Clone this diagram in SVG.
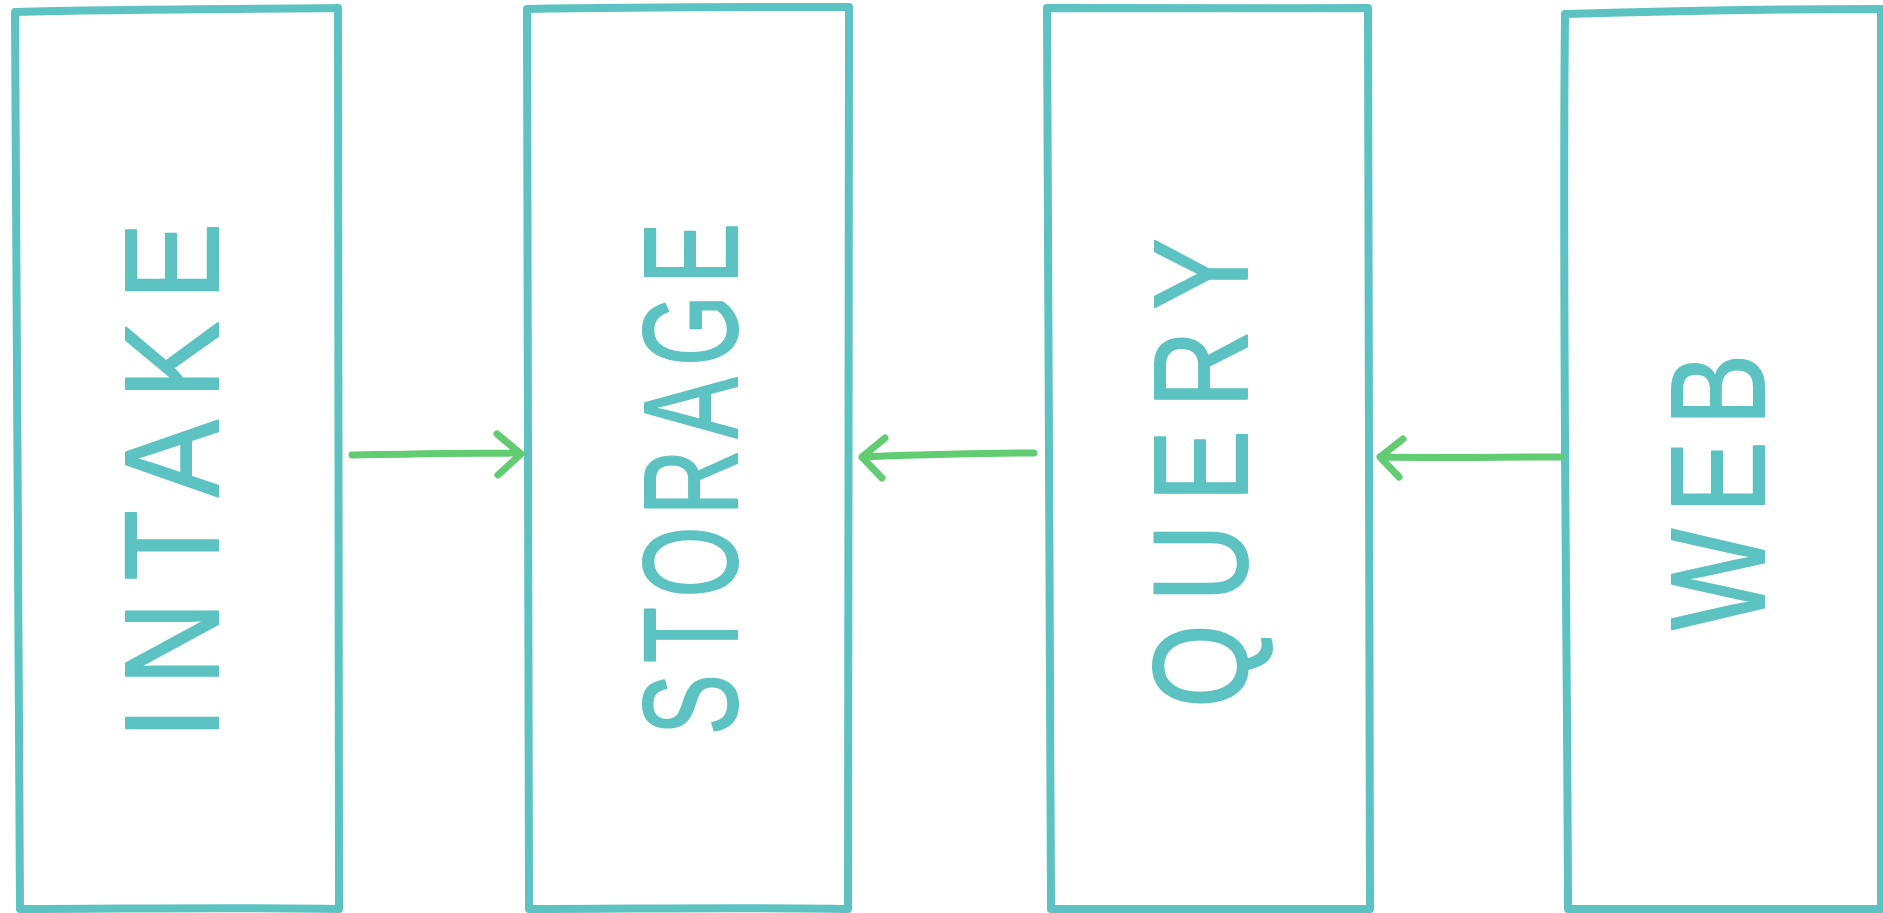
<svg xmlns="http://www.w3.org/2000/svg" width="1883" height="913" viewBox="0 0 1883 913">
<style>
.box{fill:none;stroke:#5cc2c2;stroke-width:8;stroke-linejoin:round;stroke-linecap:round}
.lbl{font-family:"Liberation Sans",Arial,sans-serif;font-size:134px;fill:#5cc2c2;stroke:#5cc2c2;stroke-width:2;stroke-linejoin:round;text-anchor:middle}
.arr{fill:none;stroke:#62cc72;stroke-width:7;stroke-linecap:round;stroke-linejoin:round}
</style>
<rect width="1883" height="913" fill="#ffffff"/>
<g id="intake">
<path class="box" d="M15,12 C120,9 240,9 338,8 C336,300 341,600 339,909 C230,907 120,909 20,909 C18,600 14,300 15,12 Z"/>
<text class="lbl" transform="translate(218,481) rotate(-90) scale(0.86,1)" textLength="600" lengthAdjust="spacing">INTAKE</text>
</g>
<g id="storage">
<path class="box" d="M527,9 C640,7 750,7 849,7 C846,300 850,600 848,909 C740,907 630,909 529,909 C527,600 526,300 527,9 Z"/>
<text class="lbl" transform="translate(737,479) rotate(-90) scale(0.68,1)" textLength="753" lengthAdjust="spacing">STORAGE</text>
</g>
<g id="query">
<path class="box" d="M1047,8 C1150,7 1260,9 1368,8 C1367,300 1371,600 1370,909 C1260,908 1150,909 1051,909 C1049,600 1047,300 1047,8 Z"/>
<text class="lbl" transform="translate(1247,473) rotate(-90) scale(0.8,1)" textLength="587" lengthAdjust="spacing">QUERY</text>
</g>
<g id="web">
<path class="box" d="M1565,14 C1670,11 1780,9 1881,9 C1880,300 1881,600 1881,909 C1780,909 1670,909 1568,909 C1567,600 1562,300 1565,14 Z"/>
<text class="lbl" transform="translate(1764,492) rotate(-90) scale(0.8,1)" textLength="345" lengthAdjust="spacing">WEB</text>
</g>
<g id="connectors">
<path class="arr" d="M352,455 C410,454 470,453 520,453 M497,434 L521,454 L498,475"/>
<path class="arr" d="M1034,453 C975,453 915,455 862,457 M885,438 L862,457 L882,478"/>
<path class="arr" d="M1561,457 C1500,457 1440,458 1380,457 M1403,439 L1380,457 L1399,477"/>
</g>
</svg>
